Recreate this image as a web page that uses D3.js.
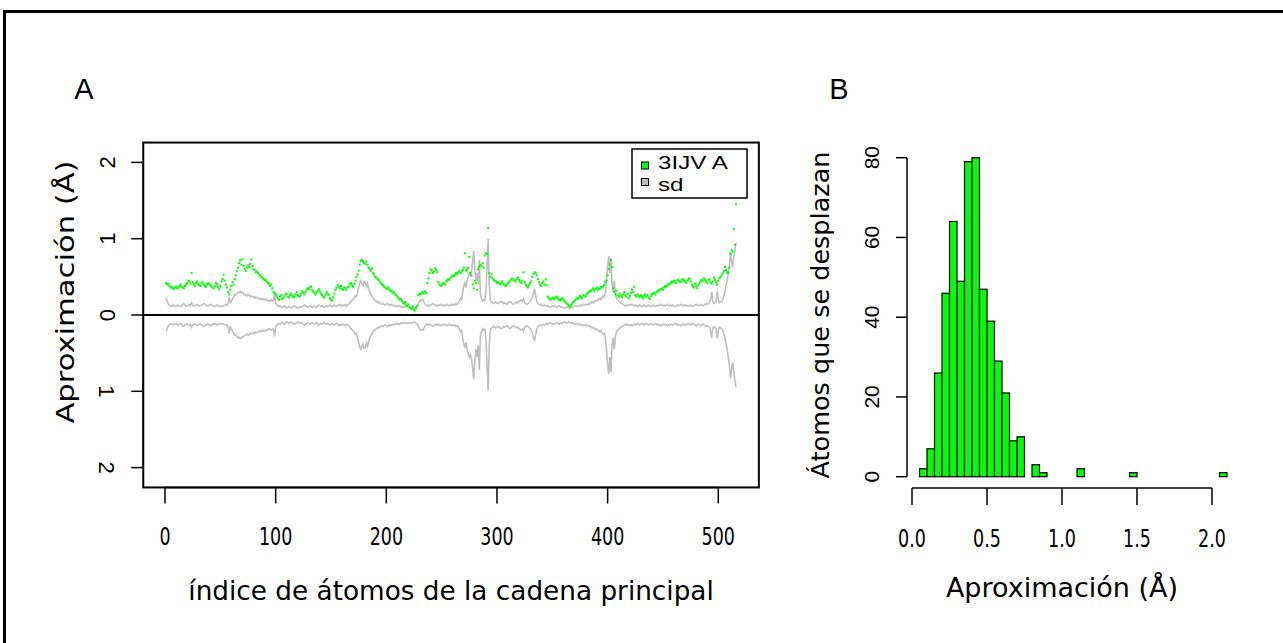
<!DOCTYPE html>
<html lang="es">
<head>
<meta charset="UTF-8">
<title>Fluctuación 3IJV A</title>
<script src="https://d3js.org/d3.v7.min.js"></script>
<style>
  body { margin: 0; background: #fff; }
  text { font-family: "DejaVu Sans", sans-serif; fill: #000; }
  .sans { font-family: "Liberation Sans", Arial, sans-serif; }
</style>
</head>
<body>
<svg id="chart" width="1283" height="643"></svg>
<script>
// aproximación por átomo (puntos verdes), índices 1..516
const approx = [
  0.42,0.40,0.41,0.38,0.36,0.37,0.35,0.34,0.36,0.37, 0.35,0.36,0.38,0.40,0.37,0.36,0.35,0.38,0.40,0.42,
  0.45,0.44,0.41,0.55,0.43,0.40,0.38,0.42,0.44,0.41, 0.39,0.38,0.41,0.43,0.40,0.38,0.37,0.40,0.42,0.41,
  0.39,0.38,0.36,0.35,0.38,0.42,0.40,0.37,0.34,0.38, 0.44,0.47,0.53,0.45,0.40,0.36,0.30,0.27,0.33,0.38,
  0.43,0.40,0.47,0.52,0.58,0.62,0.68,0.72,0.66,0.73, 0.64,0.60,0.58,0.62,0.65,0.63,0.67,0.73,0.64,0.60,
  0.59,0.56,0.57,0.55,0.53,0.52,0.50,0.49,0.47,0.46, 0.46,0.44,0.42,0.41,0.38,0.40,0.35,0.30,0.29,0.27,
  0.25,0.22,0.20,0.24,0.26,0.21,0.22,0.25,0.28,0.27, 0.24,0.23,0.26,0.28,0.25,0.23,0.24,0.27,0.30,0.26,
  0.24,0.25,0.28,0.31,0.29,0.27,0.30,0.33,0.35,0.34, 0.36,0.37,0.33,0.31,0.29,0.27,0.30,0.32,0.34,0.31,
  0.28,0.26,0.24,0.23,0.27,0.30,0.28,0.26,0.22,0.20, 0.19,0.23,0.28,0.33,0.36,0.39,0.37,0.35,0.38,0.34,
  0.33,0.36,0.35,0.33,0.36,0.37,0.40,0.42,0.39,0.37, 0.41,0.45,0.50,0.53,0.58,0.66,0.71,0.72,0.70,0.68,
  0.67,0.70,0.66,0.62,0.60,0.58,0.61,0.55,0.53,0.50, 0.49,0.47,0.46,0.44,0.42,0.40,0.39,0.37,0.36,0.35,
  0.34,0.36,0.33,0.31,0.32,0.29,0.30,0.27,0.26,0.24, 0.22,0.20,0.21,0.18,0.16,0.15,0.17,0.13,0.12,0.14,
  0.10,0.09,0.08,0.11,0.07,0.06,0.09,0.12,0.26,0.28, 0.27,0.29,0.30,0.28,0.31,0.29,0.42,0.48,0.55,0.60,
  0.58,0.55,0.57,0.61,0.59,0.56,0.43,0.40,0.38,0.39, 0.41,0.42,0.40,0.44,0.45,0.47,0.46,0.49,0.50,0.52,
  0.51,0.53,0.55,0.54,0.56,0.58,0.55,0.57,0.59,0.62, 0.81,0.58,0.60,0.62,0.76,0.55,0.52,0.40,0.35,0.45,
  0.42,0.33,0.60,0.63,0.66,0.64,0.68,0.62,0.78,0.81, 0.80,1.14,0.55,0.50,0.53,0.48,0.46,0.45,0.44,0.42,
  0.43,0.41,0.40,0.42,0.44,0.41,0.39,0.38,0.40,0.42, 0.43,0.45,0.47,0.48,0.46,0.45,0.44,0.47,0.49,0.46,
  0.44,0.42,0.45,0.56,0.43,0.40,0.38,0.36,0.39,0.42, 0.45,0.50,0.54,0.56,0.55,0.52,0.47,0.43,0.40,0.38,
  0.42,0.44,0.40,0.47,0.39,0.24,0.22,0.20,0.21,0.23, 0.22,0.21,0.23,0.24,0.22,0.20,0.19,0.21,0.22,0.20,
  0.18,0.17,0.15,0.14,0.12,0.10,0.13,0.15,0.17,0.18, 0.20,0.22,0.21,0.23,0.25,0.24,0.22,0.26,0.25,0.24,
  0.27,0.29,0.30,0.32,0.31,0.33,0.35,0.32,0.34,0.36, 0.33,0.35,0.34,0.37,0.36,0.38,0.40,0.43,0.45,0.52,
  0.60,0.66,0.72,0.63,0.35,0.30,0.27,0.32,0.26,0.24, 0.28,0.25,0.23,0.27,0.30,0.26,0.24,0.28,0.22,0.25,
  0.29,0.33,0.30,0.37,0.26,0.24,0.27,0.25,0.23,0.26, 0.24,0.22,0.25,0.27,0.24,0.26,0.23,0.21,0.25,0.27,
  0.28,0.29,0.27,0.30,0.31,0.33,0.32,0.34,0.35,0.33, 0.36,0.38,0.37,0.39,0.41,0.40,0.42,0.44,0.43,0.45,
  0.44,0.42,0.46,0.45,0.44,0.43,0.46,0.47,0.45,0.44, 0.42,0.45,0.47,0.48,0.44,0.40,0.38,0.36,0.41,0.38,
  0.35,0.39,0.42,0.44,0.46,0.45,0.48,0.46,0.44,0.42, 0.45,0.47,0.43,0.41,0.44,0.49,0.46,0.43,0.40,0.45,
  0.48,0.50,0.52,0.55,0.58,0.63,0.59,0.56,0.55,0.62, 0.80,0.85,0.83,1.13,0.92,1.45
];

// desviación estándar (línea gris, reflejada por debajo de 0)
const sdev = [
  0.22,0.18,0.14,0.13,0.12,0.12,0.13,0.12,0.11,0.12, 0.12,0.13,0.12,0.11,0.12,0.14,0.15,0.13,0.12,0.12,
  0.13,0.14,0.12,0.16,0.13,0.12,0.12,0.13,0.14,0.13, 0.12,0.12,0.13,0.14,0.15,0.14,0.13,0.12,0.12,0.13,
  0.14,0.13,0.12,0.12,0.11,0.12,0.13,0.12,0.11,0.12, 0.12,0.11,0.12,0.13,0.14,0.13,0.15,0.24,0.16,0.18,
  0.21,0.24,0.27,0.26,0.28,0.30,0.29,0.31,0.29,0.30, 0.28,0.27,0.26,0.25,0.27,0.26,0.24,0.25,0.24,0.23,
  0.24,0.22,0.23,0.22,0.21,0.22,0.21,0.20,0.21,0.20, 0.21,0.20,0.19,0.18,0.19,0.20,0.18,0.19,0.28,0.16,
  0.13,0.12,0.11,0.12,0.11,0.10,0.11,0.12,0.10,0.09, 0.10,0.11,0.10,0.09,0.10,0.11,0.12,0.11,0.10,0.09,
  0.10,0.11,0.10,0.11,0.12,0.13,0.12,0.11,0.10,0.11, 0.12,0.11,0.10,0.11,0.12,0.11,0.10,0.12,0.13,0.12,
  0.11,0.12,0.11,0.10,0.11,0.12,0.11,0.12,0.13,0.12, 0.11,0.12,0.13,0.12,0.11,0.12,0.13,0.14,0.12,0.13,
  0.12,0.13,0.14,0.12,0.13,0.14,0.16,0.18,0.19,0.21, 0.22,0.25,0.24,0.30,0.36,0.42,0.45,0.40,0.38,0.44,
  0.43,0.37,0.41,0.35,0.30,0.27,0.25,0.22,0.20,0.19, 0.18,0.17,0.16,0.17,0.15,0.14,0.15,0.14,0.13,0.14,
  0.15,0.14,0.13,0.14,0.13,0.12,0.13,0.12,0.11,0.12, 0.11,0.12,0.11,0.10,0.11,0.10,0.11,0.10,0.11,0.10,
  0.11,0.10,0.11,0.10,0.09,0.10,0.11,0.12,0.15,0.18, 0.20,0.19,0.20,0.17,0.14,0.13,0.12,0.13,0.12,0.13,
  0.14,0.15,0.14,0.13,0.12,0.13,0.12,0.13,0.14,0.13, 0.12,0.13,0.12,0.13,0.14,0.13,0.12,0.13,0.14,0.13,
  0.14,0.13,0.15,0.14,0.16,0.19,0.22,0.20,0.30,0.38, 0.42,0.36,0.45,0.50,0.55,0.52,0.58,0.70,0.84,0.60,
  0.45,0.55,0.40,0.72,0.28,0.22,0.18,0.20,0.19,0.30, 0.65,1.00,0.40,0.20,0.17,0.16,0.15,0.16,0.17,0.16,
  0.15,0.16,0.17,0.18,0.17,0.15,0.16,0.15,0.14,0.16, 0.17,0.18,0.16,0.15,0.14,0.15,0.16,0.17,0.16,0.18,
  0.19,0.20,0.18,0.21,0.16,0.15,0.14,0.15,0.16,0.18, 0.20,0.24,0.30,0.33,0.25,0.18,0.15,0.14,0.13,0.14,
  0.13,0.12,0.13,0.12,0.11,0.12,0.11,0.10,0.11,0.12, 0.11,0.12,0.11,0.10,0.11,0.12,0.11,0.10,0.11,0.10,
  0.09,0.10,0.11,0.10,0.09,0.10,0.11,0.10,0.11,0.12, 0.11,0.12,0.11,0.12,0.13,0.12,0.13,0.14,0.13,0.14,
  0.13,0.14,0.15,0.14,0.16,0.17,0.16,0.18,0.19,0.18, 0.20,0.21,0.22,0.20,0.23,0.25,0.24,0.30,0.45,0.65,
  0.77,0.55,0.75,0.40,0.30,0.45,0.28,0.22,0.20,0.18, 0.17,0.16,0.15,0.14,0.13,0.12,0.13,0.12,0.13,0.14,
  0.13,0.14,0.13,0.12,0.13,0.12,0.11,0.12,0.13,0.12, 0.11,0.12,0.13,0.12,0.11,0.12,0.13,0.12,0.11,0.12,
  0.13,0.12,0.11,0.12,0.13,0.12,0.13,0.14,0.13,0.12, 0.13,0.12,0.13,0.14,0.13,0.12,0.13,0.12,0.13,0.12,
  0.11,0.12,0.13,0.12,0.13,0.14,0.13,0.12,0.13,0.12, 0.13,0.12,0.11,0.12,0.13,0.12,0.11,0.12,0.13,0.14,
  0.13,0.12,0.13,0.14,0.13,0.12,0.13,0.14,0.15,0.14, 0.15,0.16,0.20,0.30,0.18,0.15,0.16,0.18,0.31,0.20,
  0.16,0.17,0.18,0.20,0.25,0.30,0.38,0.45,0.55,0.65, 0.83,0.70,0.62,0.75,0.85,0.95
];

// histograma: conteos por intervalo de 0.05 Å, desde 0.05
const binCounts = [2,7,26,46,64,49,79,80,47,39,29,21,9,10,0,3,1,0,0,0,0,2,0,0,0,0,0,0,1,0,0,0,0,0,0,0,0,0,0,0,1];
const binStart = 0.05, binWidth = 0.05;

const xTicksA = [0, 100, 200, 300, 400, 500];
const yTicksA = [2, 1, 0, -1, -2];
const xTicksB = [0, 0.5, 1, 1.5, 2];
const yTicksB = [0, 20, 40, 60, 80];
const legendItems = [{label: "3IJV A", color: "#00ff00"}, {label: "sd", color: "#bebebe"}];

const svg = d3.select("#chart");

// marco exterior
svg.append("path")
  .attr("d", "M4.5,643V11.5H1283")
  .attr("fill", "none").attr("stroke", "#000").attr("stroke-width", 3);

// ---------- panel A ----------
const n = approx.length;
const xA = d3.scaleLinear().domain([0, 500]).range([165, 718.3]);
const yA = d3.scaleLinear().domain([0, 2]).range([315, 162.4]);
const pad = n * 0.04;

svg.append("rect")
  .attr("x", xA(1 - pad)).attr("y", yA(2.26))
  .attr("width", xA(n + pad) - xA(1 - pad)).attr("height", yA(-2.26) - yA(2.26))
  .attr("fill", "none").attr("stroke", "#000").attr("stroke-width", 2);

const line = d3.line().x((d, i) => xA(i + 1)).y(d => yA(d));
svg.append("path").datum(sdev).attr("d", line)
  .attr("fill", "none").attr("stroke", "#bebebe").attr("stroke-width", 1.6);
svg.append("path").datum(sdev.map(v => -v)).attr("d", line)
  .attr("fill", "none").attr("stroke", "#bebebe").attr("stroke-width", 1.6);

svg.append("line")
  .attr("x1", xA(1 - pad)).attr("x2", xA(n + pad))
  .attr("y1", yA(0)).attr("y2", yA(0))
  .attr("stroke", "#000").attr("stroke-width", 2);

svg.append("g").selectAll("rect").data(approx).join("rect")
  .attr("x", (d, i) => xA(i + 1) - 1).attr("y", d => yA(d) - 1)
  .attr("width", 2).attr("height", 2).attr("fill", "#00ff00");

// eje x
const gxA = svg.append("g");
gxA.append("line").attr("x1", xA(0)).attr("x2", xA(500))
  .attr("y1", yA(-2.26)).attr("y2", yA(-2.26)).attr("stroke", "#000").attr("stroke-width", 1.5);
gxA.selectAll("line.t").data(xTicksA).join("line").attr("class", "t")
  .attr("x1", d => xA(d)).attr("x2", d => xA(d))
  .attr("y1", yA(-2.26)).attr("y2", yA(-2.26) + 16)
  .attr("stroke", "#000").attr("stroke-width", 1.5);
gxA.selectAll("text").data(xTicksA).join("text")
  .attr("transform", d => `translate(${xA(d)},545) scale(1,1.4)`)
  .attr("text-anchor", "middle").attr("font-size", 17.5)
  .text(d => d);

// eje y
const gyA = svg.append("g");
const leftA = xA(1 - pad);
gyA.append("line").attr("x1", leftA).attr("x2", leftA)
  .attr("y1", yA(2)).attr("y2", yA(-2)).attr("stroke", "#000").attr("stroke-width", 1.5);
gyA.selectAll("line.t").data(yTicksA).join("line").attr("class", "t")
  .attr("x1", leftA - 12).attr("x2", leftA)
  .attr("y1", d => yA(d)).attr("y2", d => yA(d))
  .attr("stroke", "#000").attr("stroke-width", 1.5);
gyA.selectAll("text").data(yTicksA).join("text")
  .attr("class", "sans")
  .attr("transform", d => `translate(106.7,${yA(d)}) rotate(${d < 0 ? 90 : -90})`)
  .attr("text-anchor", "middle").attr("dy", "0.36em").attr("font-size", 22)
  .text(d => Math.abs(d));

// leyenda
const leg = svg.append("g");
leg.append("rect").attr("x", 632).attr("y", 149).attr("width", 115).attr("height", 49)
  .attr("fill", "#fff").attr("stroke", "#000").attr("stroke-width", 1.5);
leg.selectAll("rect.key").data(legendItems).join("rect").attr("class", "key")
  .attr("x", 641.5).attr("y", (d, i) => 162 + i * 16.5).attr("width", 7).attr("height", 7)
  .attr("fill", d => d.color).attr("stroke", "#000").attr("stroke-width", 1);
leg.selectAll("text").data(legendItems).join("text").attr("class", "sans")
  .attr("transform", (d, i) => `translate(658,${169.3 + i * 21.4}) scale(1.38,1)`)
  .attr("font-size", 17.5).text(d => d.label);

svg.append("text").attr("x", (leftA + xA(n + pad)) / 2).attr("y", 600)
  .attr("text-anchor", "middle").attr("font-size", 26.3)
  .text("índice de átomos de la cadena principal");
svg.append("text").attr("transform", "translate(74,292) rotate(-90) scale(1.2,1)")
  .attr("text-anchor", "middle").attr("font-size", 25.5)
  .text("Aproximación (Å)");
svg.append("text").attr("class", "sans").attr("x", 84).attr("y", 99)
  .attr("text-anchor", "middle").attr("font-size", 29).text("A");

// ---------- panel B ----------
const xB = d3.scaleLinear().domain([0, 2]).range([912, 1212]);
const yB = d3.scaleLinear().domain([0, 80]).range([476.7, 157.7]);

svg.append("g").selectAll("rect").data(binCounts).join("rect")
  .attr("x", (d, i) => xB(binStart + i * binWidth))
  .attr("width", xB(binWidth) - xB(0))
  .attr("y", d => yB(d)).attr("height", d => yB(0) - yB(d))
  .attr("fill", "#00ff00").attr("stroke", "#000").attr("stroke-width", 1.2);

const gxB = svg.append("g");
gxB.append("line").attr("x1", xB(0)).attr("x2", xB(2)).attr("y1", 488).attr("y2", 488)
  .attr("stroke", "#000").attr("stroke-width", 1.5);
gxB.selectAll("line.t").data(xTicksB).join("line").attr("class", "t")
  .attr("x1", d => xB(d)).attr("x2", d => xB(d)).attr("y1", 488).attr("y2", 505)
  .attr("stroke", "#000").attr("stroke-width", 1.5);
gxB.selectAll("text").data(xTicksB).join("text")
  .attr("transform", d => `translate(${xB(d)},546.7) scale(1,1.4)`)
  .attr("text-anchor", "middle").attr("font-size", 17.5)
  .text(d => d3.format(".1f")(d));

const gyB = svg.append("g");
gyB.append("line").attr("x1", 907).attr("x2", 907).attr("y1", yB(0)).attr("y2", yB(80))
  .attr("stroke", "#000").attr("stroke-width", 1.5);
gyB.selectAll("line.t").data(yTicksB).join("line").attr("class", "t")
  .attr("x1", 896).attr("x2", 907).attr("y1", d => yB(d)).attr("y2", d => yB(d))
  .attr("stroke", "#000").attr("stroke-width", 1.5);
gyB.selectAll("text").data(yTicksB).join("text")
  .attr("class", "sans")
  .attr("transform", d => `translate(871.7,${yB(d)}) rotate(-90)`)
  .attr("text-anchor", "middle").attr("dy", "0.36em").attr("font-size", 21)
  .text(d => d);

svg.append("text").attr("x", (xB(0) + xB(2)) / 2).attr("y", 597)
  .attr("text-anchor", "middle").attr("font-size", 27)
  .text("Aproximación (Å)");
svg.append("text").attr("transform", "translate(829,315) rotate(-90)")
  .attr("text-anchor", "middle").attr("font-size", 25.5)
  .text("Átomos que se desplazan");
svg.append("text").attr("class", "sans").attr("x", 839).attr("y", 99)
  .attr("text-anchor", "middle").attr("font-size", 29).text("B");
</script>
</body>
</html>
